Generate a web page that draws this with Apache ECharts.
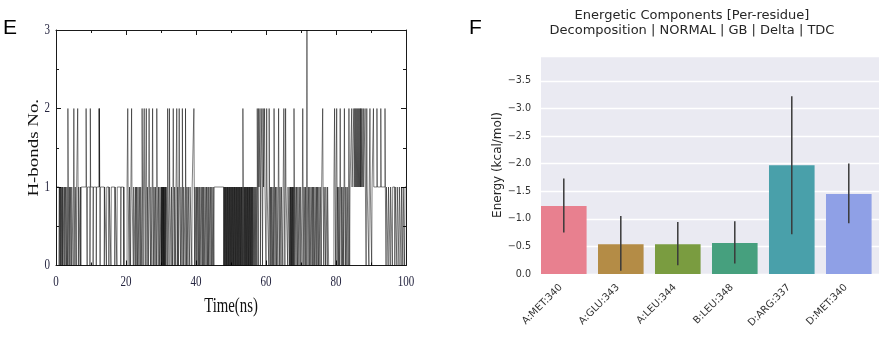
<!DOCTYPE html>
<html>
<head>
<meta charset="utf-8">
<script src="https://cdn.jsdelivr.net/npm/echarts@6/dist/echarts.min.js"></script>
<style>
html,body{margin:0;padding:0;background:#fff;}
#c{width:882px;height:338px;}
</style>
</head>
<body>
<div id="c"></div>
<script>
// ---------- Panel E data: H-bond count events over time (ns) ----------
const xTicksE = [0, 20, 40, 60, 80, 100];
const yTicksE = [0, 1, 2, 3];
const baseValue = 1;
const frameStep = 0.1;
const toTwo = [3.4, 5.1, 6.2, 8.6, 9.8, 12.3, 12.4, 20.5, 21.6, 24.6, 25.2, 25.8, 26.6, 27.6, 28.8,
  31.9, 32.4, 33.5, 34.5, 35.2, 36.1, 37.0, 39.4, 53.4, 57.5, 57.9, 58.3, 58.8, 59.2, 59.6, 60.2,
  60.9, 62.3, 63.6, 65.1, 65.6, 68.0, 70.5, 76.2, 79.6, 80.2, 81.2, 82.4, 83.7, 84.5, 85.1, 85.4,
  85.7, 86.0, 86.3, 86.6, 86.9, 87.1, 87.4, 87.8, 88.3, 88.8, 89.7, 90.7, 91.7, 92.8, 94.0];
const toThree = [71.7];
const zeroSpans = [[19.6, 20.3], [77.9, 79.4]];
const toZero = [0.9, 1.2, 1.4, 1.7, 1.9, 2.3, 2.6, 3.0, 3.3, 3.7, 4.0, 4.4, 4.9, 5.4, 5.8, 6.4, 6.9, 7.1,
  8.9, 9.7, 10.6, 11.5, 12.6, 13.8, 14.4, 15.1, 15.7, 16.8, 17.4, 18.5, 19.3,
  20.9, 21.3, 22.1, 22.6, 22.9, 23.3, 23.7, 24.1, 24.5, 24.9, 25.5, 26.0, 26.4, 27.0, 27.4, 27.9,
  28.3, 28.7, 29.2, 29.6,
  30.0, 30.15, 30.3, 30.5, 30.65, 30.8, 31.0, 31.2, 31.4,
  31.8, 32.3, 32.9, 33.3, 33.8, 34.2, 34.7, 35.0, 35.6, 36.0, 36.4, 36.9, 37.3, 37.7, 38.2, 38.8,
  39.6, 40.0, 40.3, 40.7, 41.0, 41.4, 41.8, 42.1, 42.5, 42.9, 43.3, 43.6, 44.0, 44.4, 44.8, 45.1,
  47.9, 48.1, 48.3, 48.5, 48.7, 48.9, 49.1, 49.3, 49.5, 49.7, 49.9, 50.1, 50.3, 50.5, 50.7,
  50.9, 51.1, 51.3, 51.5, 51.7, 51.9, 52.1, 52.3, 52.5, 52.7, 52.9, 53.1, 53.3, 53.6, 53.8,
  54.0, 54.2, 54.4, 54.6, 54.8, 55.0, 55.2, 55.4, 55.6, 55.8, 56.0, 56.2,
  56.5, 56.8, 57.1, 57.4, 57.8, 58.4, 59.0, 60.0, 60.8, 61.2, 61.5, 61.9, 62.2, 62.6, 63.0, 63.4,
  63.9, 64.3, 64.8, 65.4, 66.2, 66.7, 66.9, 67.1, 67.3, 67.5, 67.7, 67.9, 68.2, 68.6, 69.0, 69.4,
  69.8, 70.3, 70.8,
  71.2, 71.5, 72.0, 72.4, 72.8, 73.2, 73.5, 73.9, 74.3, 74.6, 75.0, 75.4, 75.8, 76.5, 77.0, 77.5,
  79.9, 80.3, 80.7, 81.0, 81.5, 81.9, 82.2, 82.7, 83.1, 83.5, 83.9,
  88.6, 89.4, 90.2, 94.3, 94.9, 95.5, 96.1, 96.8, 97.4, 98.0, 98.6, 99.1, 99.6];

// ---------- Panel F data ----------
const residues = ['A:MET:340', 'A:GLU:343', 'A:LEU:344', 'B:LEU:348', 'D:ARG:337', 'D:MET:340'];
const energy = [-1.23, -0.54, -0.54, -0.56, -1.97, -1.45];
const errHigh = [-1.73, -1.05, -0.94, -0.955, -3.22, -2.0];
const errLow = [-0.75, -0.06, -0.16, -0.19, -0.72, -0.92];
const barColors = ['#e8808f', '#b48c46', '#7a9c40', '#46a07e', '#49a0aa', '#8fa0e6'];

// build step series from events
const events = [];
toZero.forEach(t => events.push([t, 0, frameStep]));
toTwo.forEach(t => events.push([t, 2, frameStep]));
toThree.forEach(t => events.push([t, 3, frameStep]));
zeroSpans.forEach(s => events.push([s[0], 0, s[1] - s[0]]));
events.sort((a, b) => a[0] - b[0]);
const hb = [[0, baseValue]];
events.forEach(e => { hb.push([e[0], e[1]]); hb.push([+(e[0] + e[2]).toFixed(3), baseValue]); });
hb.push([100, baseValue]);

const serif = 'Liberation Serif';
const sans = 'DejaVu Sans';
const axisBlack = '#1a1a1a';
const tickLabelColor = '#24243f';
const stretch = 1.35; // panel E text is vertically stretched in the reference

const chart = echarts.init(document.getElementById('c'), null, {renderer: 'canvas'});
const frameAxis = (pos) => ({
  axisLine: {show: true, onZero: false, lineStyle: {color: axisBlack, width: 1}},
  axisTick: {show: true, inside: true, length: 5, lineStyle: {color: axisBlack}},
  minorTick: {show: true, splitNumber: 2, length: 3, lineStyle: {color: axisBlack}},
  splitLine: {show: false}, axisLabel: {show: false}, position: pos
});
chart.setOption({
  animation: false,
  backgroundColor: '#ffffff',
  grid: [
    {left: 56, width: 350, top: 30, height: 235.5, show: false, containLabel: false},
    {left: 541, width: 338, top: 56, height: 218, show: true, backgroundColor: '#eaeaf2', borderWidth: 0, containLabel: false}
  ],
  xAxis: [
    Object.assign({gridIndex: 0, type: 'value', min: 0, max: 100, interval: 20}, frameAxis('bottom')),
    Object.assign({gridIndex: 0, type: 'value', min: 0, max: 100, interval: 20}, frameAxis('top')),
    {gridIndex: 1, type: 'value', min: -0.4, max: 5.53,
      axisLine: {show: false}, axisTick: {show: false}, splitLine: {show: false},
      axisLabel: {rotate: 45, fontFamily: sans, fontSize: 10, color: '#333', margin: 9,
        padding: [0, 4, 0, 0], customValues: residues.map((r, i) => i),
        formatter: v => residues[Math.round(v)] || ''}}
  ],
  yAxis: [
    Object.assign({gridIndex: 0, type: 'value', min: 0, max: 3, interval: 1}, frameAxis('left')),
    Object.assign({gridIndex: 0, type: 'value', min: 0, max: 3, interval: 1}, frameAxis('right')),
    {gridIndex: 1, type: 'value', inverse: true, min: -3.95, max: 0, splitNumber: 8,
      axisLine: {show: false}, axisTick: {show: false},
      splitLine: {show: true, lineStyle: {color: '#ffffff', width: 1.3}},
      axisLabel: {fontFamily: sans, fontSize: 9.6, color: '#333', margin: 10,
        formatter: v => {
          if (Math.abs(Math.round(v * 2) - v * 2) > 1e-6) return '';
          if (Math.abs(v) < 1e-9) return '0.0';
          return (v < 0 ? '\u2212' : '') + Math.abs(v).toFixed(1);
        }},
      name: 'Energy (kcal/mol)', nameLocation: 'middle', nameGap: 32,
      nameTextStyle: {fontFamily: sans, fontSize: 12, color: '#262626'}}
  ],
  series: [
    {type: 'line', xAxisIndex: 0, yAxisIndex: 0, data: hb, step: 'end', symbol: 'none',
      lineStyle: {color: '#000', width: 0.5}, silent: true, clip: true},
    {type: 'bar', xAxisIndex: 2, yAxisIndex: 2, barWidth: 45.6, z: 2,
      data: energy.map((v, i) => ({value: [i, v], itemStyle: {color: barColors[i]}}))},
    {type: 'custom', xAxisIndex: 2, yAxisIndex: 2, silent: true, z: 10,
      data: residues.map((r, i) => [i, errHigh[i], errLow[i]]),
      renderItem: (params, api) => {
        const p1 = api.coord([api.value(0), api.value(1)]);
        const p2 = api.coord([api.value(0), api.value(2)]);
        return {type: 'line', z2: 10, shape: {x1: p1[0], y1: p1[1], x2: p2[0], y2: p2[1]},
          style: {stroke: '#3a3a3a', lineWidth: 1.5}};
      }}
  ]
});

// Panel E tick labels and axis names, placed through the axes' own scales
const g = [
  {type: 'text', left: 3, top: 18, style: {text: 'E', font: '21px "Liberation Sans"', fill: '#000'}},
  {type: 'text', left: 469, top: 18, style: {text: 'F', font: '21px "Liberation Sans"', fill: '#000'}},
  {type: 'text', x: 692, y: 16, style: {text: 'Energetic Components [Per-residue]', font: '13px "DejaVu Sans"', fill: '#262626', align: 'center', verticalAlign: 'middle'}},
  {type: 'text', x: 692, y: 31, style: {text: 'Decomposition | NORMAL | GB | Delta | TDC', font: '13px "DejaVu Sans"', fill: '#262626', align: 'center', verticalAlign: 'middle'}}
];
const origin = chart.convertToPixel({xAxisIndex: 0, yAxisIndex: 0}, [0, 0]);
const topRight = chart.convertToPixel({xAxisIndex: 0, yAxisIndex: 0}, [100, 3]);
xTicksE.forEach(v => {
  const p = chart.convertToPixel({xAxisIndex: 0, yAxisIndex: 0}, [v, 0]);
  g.push({type: 'text', x: p[0], y: p[1] + 16.5, scaleY: stretch,
    style: {text: String(v), font: '11px "Liberation Serif"', fill: tickLabelColor, align: 'center', verticalAlign: 'middle'}});
});
yTicksE.forEach(v => {
  const p = chart.convertToPixel({xAxisIndex: 0, yAxisIndex: 0}, [0, v]);
  g.push({type: 'text', x: p[0] - 6, y: p[1], scaleY: stretch,
    style: {text: String(v), font: '11px "Liberation Serif"', fill: tickLabelColor, align: 'right', verticalAlign: 'middle'}});
});
g.push({type: 'text', x: (origin[0] + topRight[0]) / 2, y: origin[1] + 41, scaleY: stretch,
  style: {text: 'Time(ns)', font: '14.8px "Liberation Serif"', fill: '#111', align: 'center', verticalAlign: 'middle'}});
g.push({type: 'text', x: origin[0] - 22, y: (origin[1] + topRight[1]) / 2, scaleX: stretch, rotation: Math.PI / 2,
  style: {text: 'H-bonds No.', font: '14px "Liberation Serif"', fill: '#111', align: 'center', verticalAlign: 'middle'}});
chart.setOption({graphic: g});
</script>
</body>
</html>
